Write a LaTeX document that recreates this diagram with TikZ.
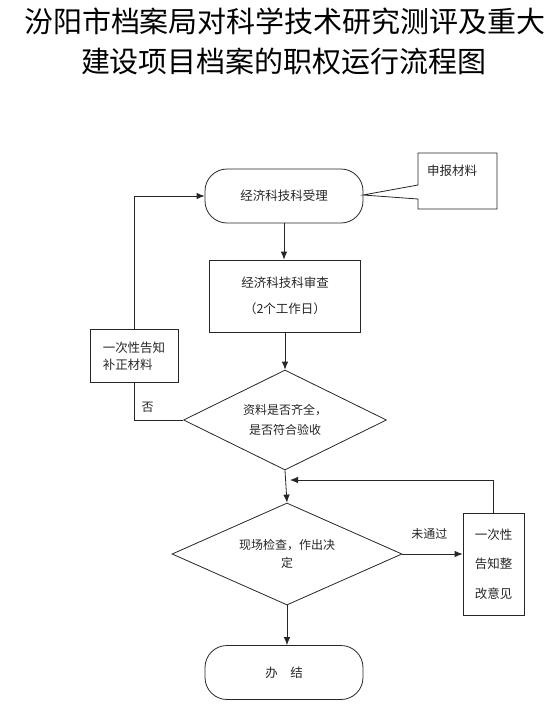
\documentclass[tikz,border=0pt]{standalone}
\usepackage{fontspec}
\newfontfamily\cjk{Noto Sans CJK SC}
\usetikzlibrary{arrows.meta,shapes.geometric}
\begin{document}
\begin{tikzpicture}[x=1pt,y=-1pt,
  line width=0.8pt, draw=black!85,
  every node/.style={font=\cjk\fontsize{12.5pt}{15pt}\selectfont, text=black!85},
  arr/.style={-{Latex[length=8pt,width=6.5pt]}},
  term/.style={draw, rounded corners=22pt, minimum width=158pt, minimum height=54pt, inner sep=0pt},
  procbox/.style={draw, inner sep=0pt, align=center},
  decision/.style={draw, diamond, aspect=2, inner sep=0pt, align=center}
]
\useasboundingbox (0,0) rectangle (560,716);
% title
\node[font=\cjk\fontsize{29pt}{34pt}\selectfont, text=black] (title1) at (285,21) {汾阳市档案局对科学技术研究测评及重大};
\node[font=\cjk\fontsize{29pt}{34pt}\selectfont, text=black] (title2) at (284,61) {建设项目档案的职权运行流程图};

% nodes
\node[term] (t1) at (284,196) {经济科技科受理};
\node[procbox, minimum width=151pt, minimum height=72pt, font=\cjk\fontsize{12.5pt}{26pt}\selectfont] (b2) at (285,296) {经济科技科审查\\（2个工作日）};
\node[decision, minimum width=203pt, minimum height=100pt, font=\cjk\fontsize{12pt}{20pt}\selectfont] (d1) at (285,420) {资料是否齐全，\\是否符合验收};
\node[procbox, minimum width=88pt, minimum height=53pt, align=left, font=\cjk\fontsize{12.5pt}{19pt}\selectfont] (nb) at (134,356) {\raisebox{-2pt}{一次性告知}\\补正材料};
\node[decision, minimum width=230pt, minimum height=102pt, font=\cjk\fontsize{12pt}{18pt}\selectfont] (d2) at (287,554) {现场检查，作出决\\定};
\node[procbox, minimum width=61pt, minimum height=102pt, font=\cjk\fontsize{12.5pt}{29.5pt}\selectfont] (b3) at (493.5,564) {一次性\\告知整\\改意见};
\node[term] (t2) at (284,672.5) {办\hspace{1em}结};

% callout
\draw (418,153) -- (497,153) -- (497,209) -- (418,209) -- (418,199) -- (363,195) -- (418,185) -- cycle;
\node (cl) at (452,171) {申报材料};

% connectors
\draw[arr] (t1.south) -- (t1.south |- b2.north);
\draw[arr] (b2.south) -- (b2.south |- d1.north);
\draw (d1.west) -| (nb.south) node[pos=0.36, above=4pt, font=\cjk\fontsize{12pt}{14pt}\selectfont] (no) {否};
\draw[arr] (nb.north) |- (t1.west);
\coordinate (mj) at (290,480);
\draw[arr] (d1.south) -- (d2.north);
\draw[arr] (b3.north) |- (mj);
\draw[arr] (d2.east) -- (d2.east -| b3.west) node[pos=0.45, above=11pt, font=\cjk\fontsize{12pt}{14pt}\selectfont] (fail) {未通过};
\draw[arr] (d2.south) -- (d2.south |- t2.north);
\end{tikzpicture}
\end{document}
